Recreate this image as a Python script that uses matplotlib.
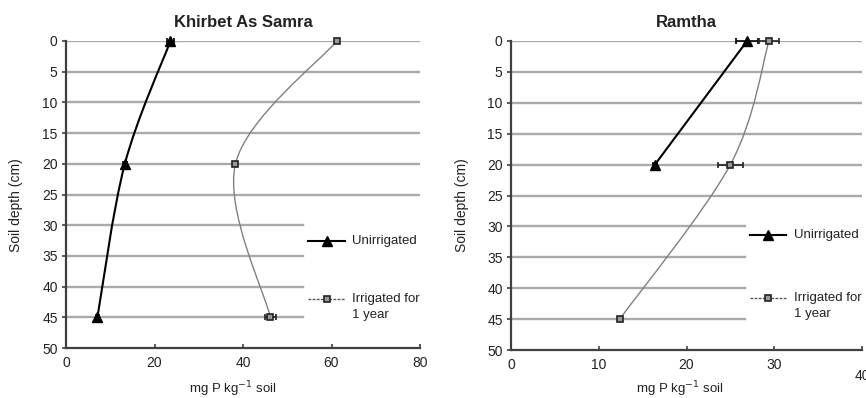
import matplotlib
matplotlib.use("Agg")
import matplotlib.pyplot as plt
from matplotlib.path import Path
from matplotlib.patches import PathPatch
from matplotlib.lines import Line2D
import numpy as np

plt.rcParams['font.family'] = ['Liberation Sans', 'DejaVu Sans']

# ---- data ----
depths_ks = [0, 20, 45]
ks_unirr = [23.6, 13.3, 7.1]
ks_unirr_err = [0.7, 0.5, 0.3]
ks_irr = [61.2, 38.3, 46.2]
ks_irr_err = [0.4, 0.4, 1.2]

depths_ra_unirr = [0, 20]
ra_unirr = [26.9, 16.4]
ra_unirr_err = [1.3, 0.2]
depths_ra_irr = [0, 20, 45]
ra_irr = [29.4, 25.0, 12.4]
ra_irr_err = [1.1, 1.4, 0.2]

titles = ["Khirbet As Samra", "Ramtha"]
xlabel = "mg P kg$^{-1}$ soil"
ylabel = "Soil depth (cm)"
legend_labels = ["Unirrigated", "Irrigated for\n1 year"]
yticks = list(range(0, 55, 5))

W, H = 866, 398
fig = plt.figure(figsize=(W / 100, H / 100), dpi=100)

def px_axes(x0, x1, ytop, ybot):
    return fig.add_axes([x0 / W, (H - ybot) / H, (x1 - x0) / W, (ybot - ytop) / H])

def smooth_path(xs, ys):
    pts = np.column_stack([xs, ys]).astype(float)
    n = len(pts)
    if n < 3:
        return Path(pts, [Path.MOVETO] + [Path.LINETO] * (n - 1))
    verts = [pts[0]]
    codes = [Path.MOVETO]
    for i in range(n - 1):
        p0 = pts[i - 1] if i > 0 else pts[i]
        p1 = pts[i]
        p2 = pts[i + 1]
        p3 = pts[i + 2] if i + 2 < n else pts[i + 1]
        c1 = p1 + (p2 - p0) / 6.0
        c2 = p2 - (p3 - p1) / 6.0
        verts += [c1, c2, p2]
        codes += [Path.CURVE4] * 3
    return Path(np.array(verts), codes)

GRID = '#aaaaaa'
SPINE = '#404040'
IRR_LINE = '#808080'
TXT = '#222222'
FS = 9.5
SQ = 4.8

def style(ax, xmax, xticks, grid_short_frac):
    ax.set_xlim(0, xmax)
    ax.set_ylim(50, 0)
    for y in yticks[:-1]:
        frac = 1.0 if y <= 25 else grid_short_frac
        ax.axhline(y, xmin=0, xmax=frac, color=GRID, lw=1.7, zorder=0)
    for s in ['top', 'right']:
        ax.spines[s].set_visible(False)
    for s in ['left', 'bottom']:
        ax.spines[s].set_color(SPINE)
        ax.spines[s].set_linewidth(1.6)
    ax.set_yticks(yticks)
    ax.set_xticks(xticks)
    ax.tick_params(axis='y', direction='out', length=3, width=1.2, color=SPINE,
                   labelsize=FS + 0.5, pad=3, labelcolor=TXT)
    ax.tick_params(axis='x', direction='in', length=3, width=1.2, color=SPINE,
                   labelsize=FS + 0.5, pad=6, labelcolor=TXT)

def draw_legend(x0, x1, xt, y1, y2):
    fx = lambda v: v / W
    fy = lambda v: (H - v) / H
    l1 = Line2D([fx(x0), fx(x1)], [fy(y1), fy(y1)], transform=fig.transFigure,
                color='black', lw=1.5)
    m1 = Line2D([fx((x0 + x1) / 2)], [fy(y1)], transform=fig.transFigure,
                color='black', marker='^', ms=6.5, ls='none')
    l2 = Line2D([fx(x0), fx(x1)], [fy(y2), fy(y2)], transform=fig.transFigure,
                color='#555555', lw=1.0, ls=(0, (2, 1)))
    m2 = Line2D([fx((x0 + x1) / 2)], [fy(y2)], transform=fig.transFigure,
                marker='s', ms=SQ, mfc='#999999', mec='#222222', mew=1.2, ls='none')
    for a in (l1, m1, l2, m2):
        fig.add_artist(a)
    fig.text(fx(xt), fy(y1), legend_labels[0], fontsize=FS, va='center', ha='left', color=TXT)
    first, second = legend_labels[1].split('\n')
    fig.text(fx(xt), fy(y2), first, fontsize=FS, va='center', ha='left', color=TXT)
    fig.text(fx(xt), fy(y2 + 16), second, fontsize=FS, va='center', ha='left', color=TXT)

def draw_series(ax, xu, du, eu, xi, di, ei):
    ax.add_patch(PathPatch(smooth_path(xu, du), fill=False, ec='black', lw=1.5, zorder=3))
    ax.add_patch(PathPatch(smooth_path(xi, di), fill=False, ec=IRR_LINE, lw=1.0, zorder=3))
    e1 = ax.errorbar(xu, du, xerr=eu, fmt='^', color='black', ms=6.5,
                     capsize=2, elinewidth=1.2, capthick=1.2, zorder=4)
    e2 = ax.errorbar(xi, di, xerr=ei, fmt='s', color='#222222', mfc='#999999',
                     mec='#222222', mew=1.2, ms=SQ, capsize=2, elinewidth=1.2,
                     capthick=1.2, zorder=4)
    for cont in (e1, e2):
        for child in cont.get_children():
            child.set_clip_on(False)

# ---- Left panel ----
ax1 = px_axes(66, 420, 41, 348)
style(ax1, 80, [0, 20, 40, 60, 80], 0.67)
draw_series(ax1, ks_unirr, depths_ks, ks_unirr_err, ks_irr, depths_ks, ks_irr_err)
ax1.set_title(titles[0], fontsize=12, fontweight='bold', pad=10, color=TXT)
fig.text(233 / W, (H - 389) / H, xlabel, fontsize=FS, ha='center', va='center', color=TXT)
fig.text(16 / W, (H - 205) / H, ylabel, fontsize=FS + 0.5, ha='center', va='center', rotation=90, color=TXT)
draw_legend(308, 345, 352, 241, 299)

# ---- Right panel ----
ax2 = px_axes(511, 862, 41, 350)
style(ax2, 40, [0, 10, 20, 30, 40], 0.666)
ax2.set_xticklabels(['0', '10', '20', '30', ''])
ax2.text(40, 54.2, '40', fontsize=FS + 0.5, ha='center', va='center', color=TXT, clip_on=False)
draw_series(ax2, ra_unirr, depths_ra_unirr, ra_unirr_err, ra_irr, depths_ra_irr, ra_irr_err)
ax2.set_title(titles[1], fontsize=12, fontweight='bold', pad=10, color=TXT)
fig.text(680 / W, (H - 389) / H, xlabel, fontsize=FS, ha='center', va='center', color=TXT)
fig.text(462 / W, (H - 205) / H, ylabel, fontsize=FS + 0.5, ha='center', va='center', rotation=90, color=TXT)
draw_legend(750, 786, 794, 235, 298)

fig.savefig("out.png", dpi=100)
